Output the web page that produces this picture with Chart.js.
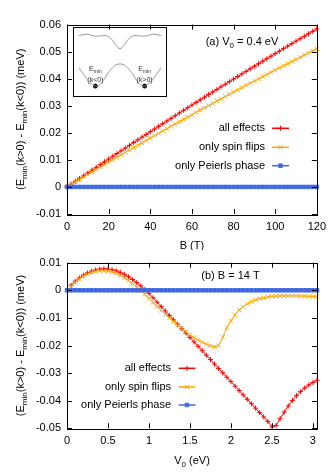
<!DOCTYPE html>
<html>
<head>
<meta charset="utf-8">
<script src="https://cdn.jsdelivr.net/npm/chart.js@4.4.0/dist/chart.umd.min.js"></script>
<style>
  body { margin: 0; background: #fff; }
  #wrap { position: relative; width: 332px; height: 475px; }
  #wrap > canvas { position: absolute; left: 0; z-index: 2; }
  #topChart { top: 0; }
  #bottomChart { top: 250px; }
  #inset { position: absolute; left: 73px; top: 27px; width: 94px; height: 70px; box-sizing: border-box;
           border: 1px solid #000; background: #fff; z-index: 1; }
  #inset canvas { display: block; }
</style>
</head>
<body>
<div id="wrap">
  <div id="inset"><canvas id="insetChart" width="92" height="68"></canvas></div>
  <canvas id="topChart" width="332" height="250"></canvas>
  <canvas id="bottomChart" width="332" height="225"></canvas>
</div>
<script>
// ---- panel (a): energy difference vs magnetic field, V0 = 0.4 eV
const bField = [0, 2, 4, 6, 8, 10, 12, 14, 16, 18, 20, 22, 24, 26, 28, 30, 32, 34, 36, 38, 40,
  42, 44, 46, 48, 50, 52, 54, 56, 58, 60, 62, 64, 66, 68, 70, 72, 74, 76, 78, 80,
  82, 84, 86, 88, 90, 92, 94, 96, 98, 100, 102, 104, 106, 108, 110, 112, 114, 116, 118, 120];
const allEffectsB = [0, 0.00104, 0.00208, 0.00312, 0.00415, 0.00518, 0.00621, 0.00724, 0.00826, 0.00929, 0.01031,
  0.01132, 0.01234, 0.01335, 0.01436, 0.01537, 0.01638, 0.01738, 0.01838, 0.01938, 0.02038,
  0.02138, 0.02237, 0.02336, 0.02435, 0.02533, 0.02632, 0.02730, 0.02828, 0.02925, 0.03023,
  0.03120, 0.03217, 0.03314, 0.03410, 0.03506, 0.03602, 0.03698, 0.03794, 0.03889, 0.03984,
  0.04079, 0.04174, 0.04268, 0.04363, 0.04457, 0.04550, 0.04644, 0.04737, 0.04830, 0.04923,
  0.05016, 0.05108, 0.05200, 0.05292, 0.05384, 0.05475, 0.05566, 0.05657, 0.05748, 0.05839];
const spinFlipsB = [0, 0.00093, 0.00185, 0.00277, 0.00369, 0.00460, 0.00552, 0.00643, 0.00733, 0.00824, 0.00914,
  0.01004, 0.01094, 0.01183, 0.01272, 0.01361, 0.01450, 0.01539, 0.01627, 0.01715, 0.01802,
  0.01890, 0.01977, 0.02064, 0.02151, 0.02237, 0.02323, 0.02409, 0.02495, 0.02580, 0.02665,
  0.02750, 0.02835, 0.02919, 0.03003, 0.03087, 0.03171, 0.03254, 0.03337, 0.03420, 0.03502,
  0.03585, 0.03667, 0.03749, 0.03830, 0.03911, 0.03992, 0.04073, 0.04154, 0.04234, 0.04314,
  0.04394, 0.04473, 0.04552, 0.04632, 0.04710, 0.04789, 0.04867, 0.04945, 0.05023, 0.05100];
const peierlsB = [0, 0, 0, 0, 0, 0, 0, 0, 0, 0, 0, 0, 0, 0, 0, 0, 0, 0, 0, 0, 0,
  0, 0, 0, 0, 0, 0, 0, 0, 0, 0, 0, 0, 0, 0, 0, 0, 0, 0, 0, 0,
  0, 0, 0, 0, 0, 0, 0, 0, 0, 0, 0, 0, 0, 0, 0, 0, 0, 0, 0, 0];

// ---- panel (b): energy difference vs potential V0, B = 14 T
const v0 = [0, 0.05, 0.1, 0.15, 0.2, 0.25, 0.3, 0.35, 0.4, 0.45, 0.5, 0.55, 0.6, 0.65, 0.7, 0.75,
  0.8, 0.85, 0.9, 0.95, 1, 1.05, 1.1, 1.15, 1.2, 1.25, 1.3, 1.35, 1.4, 1.45, 1.5, 1.55,
  1.6, 1.65, 1.7, 1.75, 1.8, 1.85, 1.9, 1.95, 2, 2.05, 2.1, 2.15, 2.2, 2.25, 2.3, 2.35,
  2.4, 2.45, 2.5, 2.55, 2.6, 2.65, 2.7, 2.75, 2.8, 2.85, 2.9, 2.95, 3, 3.05];
const allEffectsV = [null, 0.0018, 0.0033, 0.0045, 0.0055, 0.0063, 0.0069, 0.0074, 0.0077, 0.0078, 0.0077,
  0.0075, 0.0071, 0.0065, 0.0058, 0.0049, 0.0039, 0.0028, 0.0016, 0.0003, -0.0011,
  -0.0027, -0.0043, -0.0059, -0.0075, -0.0091, -0.0107, -0.0123, -0.0139, -0.0155, -0.0171,
  -0.0187, -0.0203, -0.0219, -0.0235, -0.0251, -0.0267, -0.0283, -0.0299, -0.0315, -0.0331,
  -0.0347, -0.0363, -0.0379, -0.0395, -0.0411, -0.0427, -0.0443, -0.0459, -0.0475, -0.0495,
  -0.0490, -0.0465, -0.0441, -0.0419, -0.0399, -0.0382, -0.0367, -0.0354, -0.0343, -0.0334, -0.0326];
const spinFlipsV = [null, 0.0014, 0.0029, 0.0041, 0.0051, 0.0059, 0.0065, 0.0069, 0.0071, 0.0071, 0.0069,
  0.0066, 0.0061, 0.0054, 0.0045, 0.0035, 0.0024, 0.0012, -0.0001, -0.0015, -0.0029,
  -0.0044, -0.0059, -0.0073, -0.0087, -0.0100, -0.0113, -0.0126, -0.0138, -0.0150, -0.0161,
  -0.0171, -0.0180, -0.0188, -0.0195, -0.0201, -0.0205, -0.0200, -0.0170, -0.0135, -0.0110,
  -0.0089, -0.0072, -0.0059, -0.0049, -0.0041, -0.0035, -0.0030, -0.0027, -0.0024, -0.0022,
  -0.0021, -0.0020, -0.0020, -0.0020, -0.0020, -0.0020, -0.0021, -0.0021, -0.0022, -0.0022, -0.0023];
const peierlsV = [0, 0, 0, 0, 0, 0, 0, 0, 0, 0, 0, 0, 0, 0, 0, 0, 0, 0, 0, 0, 0,
  0, 0, 0, 0, 0, 0, 0, 0, 0, 0, 0, 0, 0, 0, 0, 0, 0, 0, 0, 0,
  0, 0, 0, 0, 0, 0, 0, 0, 0, 0, 0, 0, 0, 0, 0, 0, 0, 0, 0, 0, 0];

// ---- inset: schematic band structure (arbitrary units)
const insetK = [0, 0.05, 0.1, 0.15, 0.2, 0.25, 0.3, 0.35, 0.4, 0.45, 0.5,
  0.55, 0.6, 0.65, 0.7, 0.75, 0.8, 0.85, 0.9, 0.95, 1];
const upperBand = [0.955, 0.972, 0.978, 0.962, 0.945, 0.950, 0.957, 0.945, 0.890, 0.790, 0.730,
  0.790, 0.890, 0.945, 0.957, 0.950, 0.945, 0.962, 0.978, 0.972, 0.955];
const lowerBand = [0.40, 0.30, 0.20, 0.13, 0.085, 0.11, 0.19, 0.30, 0.39, 0.45, 0.465,
  0.45, 0.39, 0.30, 0.19, 0.11, 0.085, 0.13, 0.20, 0.30, 0.40];
const minK = [0.2, 0.8];
const minE = [0.085, 0.085];

const seriesNames = ['all effects', 'only spin flips', 'only Peierls phase'];
const FONT = "'Liberation Sans', Arial, sans-serif";

Chart.defaults.font.family = FONT;
Chart.defaults.font.size = 11;
Chart.defaults.color = '#000';
Chart.defaults.animation = false;

// text with subscripts: parts = [[text, isSub], ...]
function rich(ctx, parts, x, y, align, size) {
  const big = size + 'px ' + FONT;
  const small = Math.round(size * 0.7) + 'px ' + FONT;
  let w = 0;
  parts.forEach(p => { ctx.font = p[1] ? small : big; w += ctx.measureText(p[0]).width; });
  let cx = align === 'center' ? x - w / 2 : (align === 'right' ? x - w : x);
  ctx.textAlign = 'left';
  ctx.textBaseline = 'alphabetic';
  parts.forEach(p => {
    ctx.font = p[1] ? small : big;
    ctx.fillText(p[0], cx, y + (p[1] ? size * 0.28 : 0));
    cx += ctx.measureText(p[0]).width;
  });
}

const yTitle = [['(E', 0], ['min', 1], ['(k>0) - E', 0], ['min', 1], ['(k<0)) (meV)', 0]];

const panelDecor = {
  id: 'panelDecor',
  afterDraw(chart, args, o) {
    const ctx = chart.ctx, a = chart.chartArea;
    const xs = chart.scales.x, ys = chart.scales.y;
    ctx.save();
    ctx.strokeStyle = '#000';
    ctx.lineWidth = 1;
    // inward tics on all four sides
    ctx.beginPath();
    xs.ticks.forEach(t => {
      const px = Math.round(xs.getPixelForValue(t.value)) + 0.5;
      ctx.moveTo(px, a.bottom); ctx.lineTo(px, a.bottom - 5);
      ctx.moveTo(px, a.top); ctx.lineTo(px, a.top + 5);
    });
    ys.ticks.forEach(t => {
      const py = Math.round(ys.getPixelForValue(t.value)) + 0.5;
      ctx.moveTo(a.left, py); ctx.lineTo(a.left + 5, py);
      ctx.moveTo(a.right, py); ctx.lineTo(a.right - 5, py);
    });
    ctx.stroke();
    ctx.strokeRect(Math.round(a.left) + 0.5, Math.round(a.top) + 0.5,
      Math.round(a.right - a.left), Math.round(a.bottom - a.top));

    ctx.fillStyle = '#000';
    rich(ctx, o.title, o.titleX, o.titleY, 'center', 11);
    rich(ctx, o.xTitle, (a.left + a.right) / 2, o.xTitleY, 'center', 11);

    // key
    const lg = o.legend;
    chart.data.datasets.forEach((ds, i) => {
      const y = lg.ys[i];
      ctx.font = '11px ' + FONT;
      ctx.textAlign = 'right';
      ctx.textBaseline = 'middle';
      ctx.fillStyle = '#000';
      ctx.fillText(ds.label, lg.right, y);
      ctx.strokeStyle = ds.borderColor;
      ctx.fillStyle = ds.borderColor;
      ctx.lineWidth = 1.5;
      ctx.beginPath();
      ctx.moveTo(lg.x1, y); ctx.lineTo(lg.x2, y);
      ctx.stroke();
      ctx.lineWidth = 1;
      Chart.helpers.drawPoint(ctx, { pointStyle: ds.pointStyle, radius: ds.pointRadius, borderWidth: 1, rotation: 0 },
        (lg.x1 + lg.x2) / 2, y);
    });

    ctx.fillStyle = '#000';
    ctx.translate(20, (a.top + a.bottom) / 2);
    ctx.rotate(-Math.PI / 2);
    rich(ctx, yTitle, 0, 4, 'center', 11);
    ctx.restore();
  }
};

function series(xv, yv, i) {
  const colors = ['#ff0000', '#ffa500', '#4169e1'];
  const styles = ['cross', 'crossRot', 'rect'];
  const radii = [2.5, 3, 2.5];
  return {
    label: seriesNames[i],
    data: xv.map((x, k) => ({ x: x, y: yv[k] })),
    borderColor: colors[i],
    backgroundColor: colors[i],
    pointBackgroundColor: colors[i],
    pointBorderColor: colors[i],
    pointStyle: styles[i],
    pointRadius: radii[i],
    pointBorderWidth: 1,
    borderWidth: 1,
    tension: 0,
    clip: false,
    order: 3 - i
  };
}

const fmt = v => String(+(+v).toFixed(2));

function panelOptions(cfg) {
  return {
    responsive: false,
    events: [],
    layout: { padding: { left: 0, right: 15, top: cfg.padTop, bottom: 0 } },
    plugins: {
      legend: { display: false },
      tooltip: { enabled: false },
      panelDecor: cfg.decor
    },
    scales: {
      x: {
        type: 'linear',
        min: cfg.xMin, max: cfg.xMax,
        grid: { display: false, drawTicks: false },
        border: { display: false },
        ticks: { stepSize: cfg.xStep, includeBounds: false, padding: 6, maxRotation: 0, callback: fmt },
        afterFit: s => { s.height = cfg.xHeight; }
      },
      y: {
        min: cfg.yMin, max: cfg.yMax,
        grid: { display: false, drawTicks: false },
        border: { display: false },
        ticks: { stepSize: 0.01, padding: 6, callback: fmt },
        afterFit: s => { s.width = 67; }
      }
    }
  };
}

new Chart(document.getElementById('topChart'), {
  type: 'line',
  data: {
    datasets: [series(bField, allEffectsB, 0), series(bField, spinFlipsB, 1), series(bField, peierlsB, 2)]
  },
  options: panelOptions({
    padTop: 24.5, xHeight: 36, xMin: 0, xMax: 120, xStep: 20, yMin: -0.01, yMax: 0.06,
    decor: {
      title: [['(a) V', 0], ['0', 1], [' = 0.4 eV', 0]], titleX: 242, titleY: 45,
      xTitle: [['B (T)', 0]], xTitleY: 249,
      legend: { right: 265, x1: 272, x2: 289, ys: [128.3, 147.3, 165.7] }
    }
  }),
  plugins: [panelDecor]
});

new Chart(document.getElementById('bottomChart'), {
  type: 'line',
  data: {
    datasets: [series(v0, allEffectsV, 0), series(v0, spinFlipsV, 1), series(v0, peierlsV, 2)]
  },
  options: panelOptions({
    padTop: 12.7, xHeight: 46.7, xMin: 0, xMax: 3.05, xStep: 0.5, yMin: -0.05, yMax: 0.01,
    decor: {
      title: [['(b) B = 14 T', 0]], titleX: 230.5, titleY: 29,
      xTitle: [['V', 0], ['0', 1], [' (eV)', 0]], xTitleY: 214,
      legend: { right: 171, x1: 178.7, x2: 195.3, ys: [118.3, 137, 155] }
    }
  }),
  plugins: [panelDecor]
});

const insetLabels = {
  id: 'insetLabels',
  afterDraw(chart) {
    const ctx = chart.ctx, xs = chart.scales.x;
    ctx.save();
    ctx.fillStyle = '#333';
    const tags = ['(k<0)', '(k>0)'];
    minK.forEach((k, i) => {
      const px = xs.getPixelForValue(k);
      rich(ctx, [['E', 0], ['min', 1]], px, 43, 'center', 7);
      rich(ctx, [[tags[i], 0]], px, 54, 'center', 7);
    });
    ctx.restore();
  }
};

new Chart(document.getElementById('insetChart'), {
  type: 'line',
  data: {
    datasets: [
      { data: insetK.map((x, i) => ({ x: x, y: upperBand[i] })), borderColor: '#999', borderWidth: 1, pointRadius: 0, tension: 0.4 },
      { data: insetK.map((x, i) => ({ x: x, y: lowerBand[i] })), borderColor: '#999', borderWidth: 1, pointRadius: 0, tension: 0.4 },
      { data: minK.map((x, i) => ({ x: x, y: minE[i] })), showLine: false, pointRadius: 2,
        pointBackgroundColor: '#000', pointBorderColor: '#000', clip: false }
    ]
  },
  options: {
    responsive: false,
    events: [],
    layout: { padding: 0 },
    plugins: { legend: { display: false }, tooltip: { enabled: false } },
    scales: {
      x: { type: 'linear', display: false, min: 0, max: 1 },
      y: { display: false, min: 0, max: 1 }
    }
  },
  plugins: [insetLabels]
});
</script>
</body>
</html>
